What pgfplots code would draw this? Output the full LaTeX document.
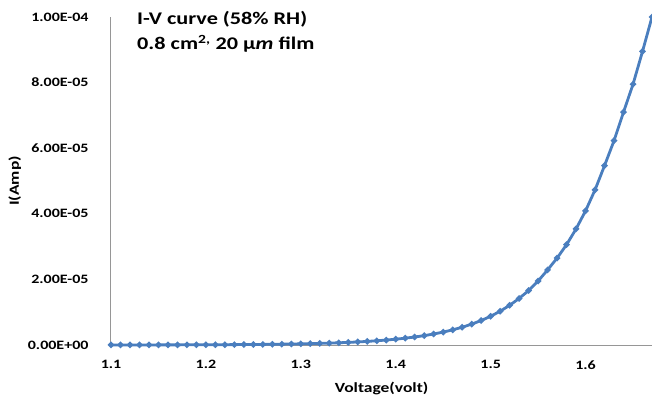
\documentclass[border=0pt]{standalone}
\usepackage{fontspec}
\setmainfont{Carlito}[FakeStretch=1.25]
\usepackage{pgfplots}
\pgfplotsset{compat=1.18}
\definecolor{serblue}{RGB}{74,126,190}
\definecolor{axgray}{RGB}{150,150,150}
\begin{document}
\begin{tikzpicture}[x=1pt,y=1pt]
\begin{axis}[
  scale only axis,
  width=541pt, height=328pt,
  xmin=1.1, xmax=1.67,
  ymin=0, ymax=1e-4,
  axis x line=bottom, axis y line=left,
  axis line style={axgray, line width=1pt, -},
  major tick length=0pt,
  xtick={1.1,1.2,1.3,1.4,1.5,1.6},
  xticklabels={1.1,1.2,1.3,1.4,1.5,1.6},
  ytick={0,2e-5,4e-5,6e-5,8e-5,1e-4},
  yticklabels={0.00E+00,2.00E-05,4.00E-05,6.00E-05,8.00E-05,1.00E-04},
  scaled y ticks=false,
  tick label style={font=\fontsize{12.8}{15}\selectfont\bfseries},
  xticklabel style={yshift=-12pt},
  yticklabel style={xshift=-19pt},
  xlabel={Voltage(volt)}, ylabel={I(Amp)},
  label style={font=\fontsize{14}{16}\selectfont\bfseries},
  xlabel style={yshift=-6pt},
  ylabel style={yshift=0pt},
  clip=false,
]
\addplot[serblue, line width=2.8pt, mark=*, mark size=1.5pt, mark options={serblue}] coordinates {
(1.10,1.47e-8) (1.11,1.72e-8) (1.12,2.02e-8) (1.13,2.37e-8) (1.14,2.78e-8)
(1.15,3.26e-8) (1.16,3.82e-8) (1.17,4.48e-8) (1.18,5.26e-8) (1.19,6.17e-8)
(1.20,7.24e-8) (1.21,8.50e-8) (1.22,9.97e-8) (1.23,1.17e-7) (1.24,1.37e-7)
(1.25,1.61e-7) (1.26,1.89e-7) (1.27,2.22e-7) (1.28,2.60e-7) (1.29,3.05e-7)
(1.30,3.58e-7) (1.31,4.20e-7) (1.32,4.93e-7) (1.33,5.79e-7) (1.34,6.79e-7)
(1.35,7.97e-7) (1.36,9.35e-7) (1.37,1.10e-6) (1.38,1.29e-6) (1.39,1.51e-6)
(1.40,1.77e-6) (1.41,2.08e-6) (1.42,2.44e-6) (1.43,2.86e-6) (1.44,3.36e-6)
(1.45,3.94e-6) (1.46,4.62e-6) (1.47,5.42e-6) (1.48,6.36e-6) (1.49,7.46e-6)
(1.50,8.76e-6) (1.51,1.03e-5) (1.52,1.21e-5) (1.53,1.42e-5) (1.54,1.66e-5)
(1.55,1.95e-5) (1.56,2.29e-5) (1.57,2.65e-5) (1.58,3.06e-5) (1.59,3.54e-5)
(1.60,4.09e-5) (1.61,4.73e-5) (1.62,5.47e-5) (1.63,6.23e-5) (1.64,7.10e-5)
(1.65,7.95e-5) (1.66,8.95e-5) (1.67,1.00e-4)
};
\node[anchor=north west, align=left, inner sep=0pt, font=\fontsize{17.8}{25}\selectfont\bfseries]
  at (rel axis cs:0,1) [xshift=26pt, yshift=6pt]
  {I-V curve (58\% RH)\\0.8 cm\textsuperscript{2,} 20 μ\textit{m} film};
\end{axis}
\pgfresetboundingbox
\path (-111pt,-60pt) rectangle (541pt,345pt);
\end{tikzpicture}
\end{document}
